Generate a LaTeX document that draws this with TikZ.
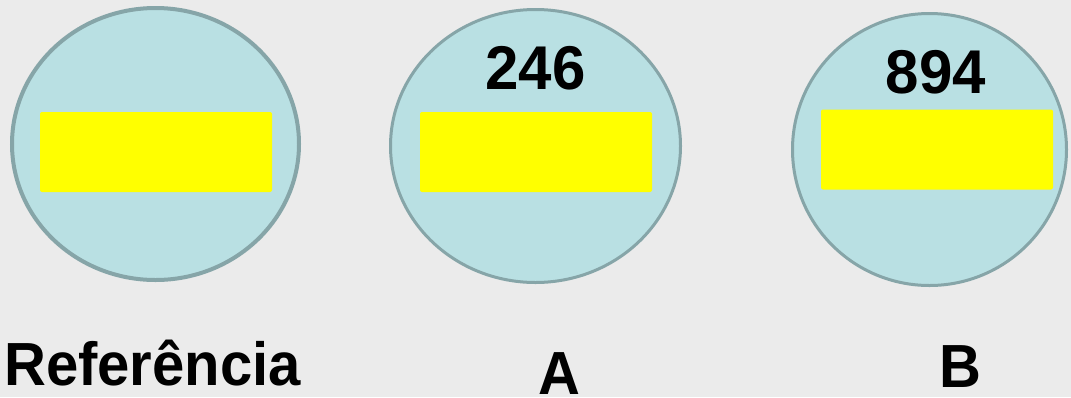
\documentclass[tikz,border=0pt]{standalone}
\usepackage{fontspec}
\setmainfont{Liberation Sans}
\usetikzlibrary{shapes.geometric}
\definecolor{bgc}{HTML}{EBEBEB}
\definecolor{diskfill}{HTML}{B9E0E3}
\definecolor{diskline}{HTML}{86A5A8}
\definecolor{bar}{HTML}{FFFF00}
\newcommand{\tallnum}[1]{\scalebox{1}[1.03]{#1}}
\newcommand{\talllab}[1]{\scalebox{1}[1.05]{#1}}
\tikzset{
  disk/.style={ellipse, draw=diskline, fill=diskfill, inner sep=0pt, outer sep=0pt},
  barbox/.style={rectangle, fill=bar, rounded corners=2pt, inner sep=0pt, outer sep=0pt, minimum width=232pt, minimum height=80pt},
  numtext/.style={anchor=base, inner sep=0pt, font=\fontsize{60}{60}\selectfont\bfseries},
  labtext/.style={anchor=base, inner sep=0pt, font=\fontsize{58}{58}\selectfont\bfseries}
}
\begin{document}
\begin{tikzpicture}[x=1pt,y=-1pt]
\fill[bgc] (0,0) rectangle (1071,397);
\useasboundingbox (0,0) rectangle (1071,397);
% disks
\node[disk, line width=4pt, minimum width=287pt, minimum height=272pt] (d1) at (155.5,144) {};
\node[disk, line width=3pt, minimum width=290pt, minimum height=273pt] (d2) at (535.5,146) {};
\node[disk, line width=3pt, minimum width=274pt, minimum height=272pt] (d3) at (929.5,149.5) {};
% bars
\node[barbox] (b1) at (156,152) {};
\node[barbox] (b2) at (536,152) {};
\node[barbox] (b3) at (937,149.5) {};
% numbers
\node[numtext] (n2) at (535.5,89) {\tallnum{246}};
\node[numtext] (n3) at (936,93) {\tallnum{894}};
% labels
\node[labtext] (l1) at (152.5,385) {\talllab{Referência}};
\node[labtext] (l2) at (559.5,394) {\talllab{A}};
\node[labtext] (l3) at (960.5,387) {\talllab{B}};
\end{tikzpicture}
\end{document}
